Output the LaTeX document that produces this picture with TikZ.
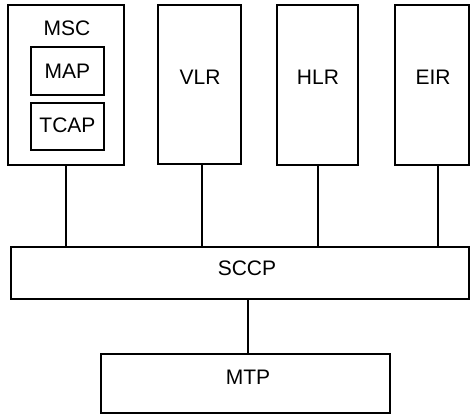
\documentclass[tikz,border=0pt]{standalone}
\usepackage{fontspec}
\setmainfont{Liberation Sans}
\begin{document}
\begin{tikzpicture}[x=1pt,y=-1pt,
  box/.style={draw, line width=2.4pt, inner sep=0pt, rectangle},
  lbl/.style={inner sep=0pt, font=\fontsize{21}{24}\selectfont},
  conn/.style={line width=1.8pt}]
\useasboundingbox (0,0) rectangle (471,415);
\node[box, minimum width=116pt, minimum height=160pt] (msc) at (66,85) {};
\node[box, minimum width=73pt, minimum height=48pt] (map) at (67.5,71) {};
\node[box, minimum width=73pt, minimum height=47pt] (tcap) at (67.5,126.5) {};
\node[box, minimum width=83pt, minimum height=159pt] (vlr) at (199.5,84.5) {};
\node[box, minimum width=81pt, minimum height=160pt] (hlr) at (317.5,85) {};
\node[box, minimum width=74pt, minimum height=160pt] (eir) at (432,85) {};
\node[box, minimum width=458pt, minimum height=52pt] (sccp) at (240,273) {};
\node[box, minimum width=289pt, minimum height=59pt] (mtp) at (245.5,383.5) {};
\node[lbl] (tmsc) at (67,28) {MSC};
\node[lbl] (tmap) at (67.5,71) {MAP};
\node[lbl] (ttcap) at (67.5,125) {TCAP};
\node[lbl] (tvlr) at (200,77) {VLR};
\node[lbl] (thlr) at (318,77) {HLR};
\node[lbl] (teir) at (433,77) {EIR};
\node[lbl] (tsccp) at (247,268) {SCCP};
\node[lbl] (tmtp) at (248,377) {MTP};
\draw[conn] (msc.south) -- (msc.south |- sccp.north);
\draw[conn] ([xshift=2.5pt]vlr.south) -- ([xshift=2.5pt]vlr.south |- sccp.north);
\draw[conn] ([xshift=0.5pt]hlr.south) -- ([xshift=0.5pt]hlr.south |- sccp.north);
\draw[conn] ([xshift=6pt]eir.south) -- ([xshift=6pt]eir.south |- sccp.north);
\draw[conn] ([xshift=2.5pt]mtp.north |- sccp.south) -- ([xshift=2.5pt]mtp.north);
\end{tikzpicture}
\end{document}
